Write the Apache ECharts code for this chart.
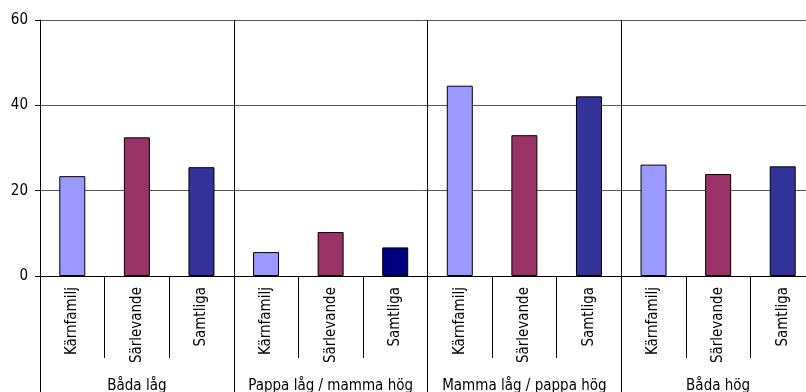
<!DOCTYPE html>
<html>
<head>
<meta charset="utf-8">
<script src="https://cdn.jsdelivr.net/npm/echarts@6/dist/echarts.min.js"></script>
<style>
  html, body { margin: 0; padding: 0; background: #fff; }
  #chart { width: 806px; height: 392px; }
</style>
</head>
<body>
<div id="chart"></div>
<script>
// groups and sub-categories
var groups = ['Båda låg', 'Pappa låg / mamma hög', 'Mamma låg / pappa hög', 'Båda hög'];
var types = ['Kärnfamilj', 'Särlevande', 'Samtliga'];

// values per group
var karnfamilj = [23.4, 5.6, 44.6, 26.1];
var sarlevande = [32.5, 10.3, 33.0, 23.9];
var samtliga = [25.5, 6.7, 42.1, 25.7];

var yTicks = [0, 20, 40, 60];

var colors = ['#9999FF', '#993366', '#333399'];
var font = '"DejaVu Sans Condensed", "Liberation Sans Narrow", sans-serif';

var cats = [];
var barData = [];
groups.forEach(function (g, i) {
  var vals = [karnfamilj[i], sarlevande[i], samtliga[i]];
  types.forEach(function (t, j) {
    cats.push(t);
    var c = colors[j];
    if (i === 1 && j === 2) c = '#000080';
    barData.push({ value: vals[j], itemStyle: { color: c } });
  });
});

var chart = echarts.init(document.getElementById('chart'));
chart.setOption({
  animation: false,
  backgroundColor: '#fff',
  grid: { left: 40, top: 20, width: 775, height: 256, outerBoundsMode: 'none', containLabel: false },
  xAxis: [{
    type: 'category',
    data: cats,
    axisLine: { lineStyle: { color: '#000', width: 1 } },
    axisTick: { show: true, interval: 0, length: 82, lineStyle: { color: '#000' } },
    axisLabel: { interval: 0, rotate: 90, margin: 11, color: '#000', fontSize: 15, fontFamily: font },
    splitLine: { show: false }
  }, {
    type: 'category',
    position: 'bottom',
    data: groups,
    axisLine: { lineStyle: { color: '#000', width: 1 } },
    axisTick: { show: true, interval: 0, length: 120, lineStyle: { color: '#000' } },
    axisLabel: { interval: 0, margin: 103, color: '#000', fontSize: 15, fontFamily: font },
    splitLine: { show: true, interval: 0, lineStyle: { color: '#000', width: 1 } }
  }],
  yAxis: {
    type: 'value',
    min: yTicks[0],
    max: yTicks[yTicks.length - 1],
    interval: 20,
    axisLine: { show: true, lineStyle: { color: '#000' } },
    axisTick: { show: true, length: 5, lineStyle: { color: '#000' } },
    axisLabel: { margin: 12, color: '#000', fontSize: 15, fontFamily: font },
    splitLine: { show: true, lineStyle: { color: '#555', width: 1 } }
  },
  series: [{
    type: 'bar',
    xAxisIndex: 0,
    data: barData,
    barWidth: 26,
    itemStyle: { borderColor: '#000', borderWidth: 1 }
  }]
});
</script>
</body>
</html>
